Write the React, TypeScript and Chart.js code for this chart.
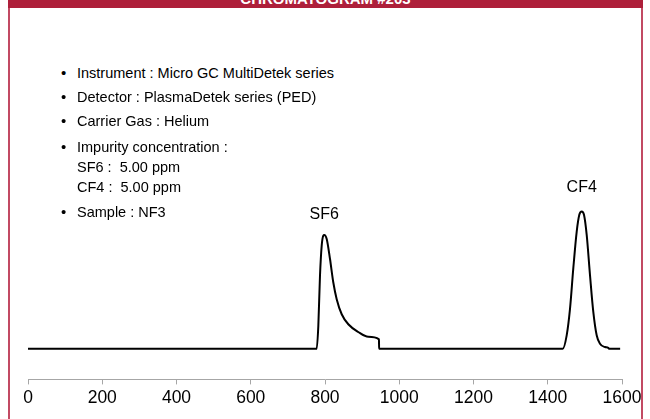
import { useEffect, useRef } from 'react';
import { Chart, registerables } from 'chart.js';

Chart.register(...registerables);

const titleText = 'CHROMATOGRAM #203';

const infoBullets = [
  'Instrument : Micro GC MultiDetek series',
  'Detector : PlasmaDetek series (PED)',
  'Carrier Gas : Helium',
  'Impurity concentration :',
  'SF6 :  5.00 ppm',
  'CF4 :  5.00 ppm',
  'Sample : NF3',
];
const infoHasBullet = [true, true, true, true, false, false, true];
const infoLineY = [73, 96.5, 121, 147, 166.5, 186.5, 212];

const retentionTimes = [
  0, 777.6, 782, 786.5, 791.1, 795.4, 798.1, 804.6, 813.5, 822.4, 831.5, 845, 862.8, 889.7, 916.6,
  945.5, 945.6, 1440.3, 1451, 1460, 1468.8, 1478, 1485, 1491.5, 1497.6, 1504.9, 1513.8, 1522.7,
  1531.8, 1540.7, 1554.2, 1563, 1565, 1595,
];
const signal = [
  0, 0, 22.7, 72.7, 102.7, 112.7, 113.4, 109.4, 89.4, 66, 49.4, 34.4, 24.4, 16.7, 12, 9.4, 0, 0,
  13.4, 40, 80, 116.7, 133.4, 136.7, 133.4, 113.4, 73.4, 36.7, 13.4, 5, 1.7, 1, 0, 0,
];

const peakLabels = ['SF6', 'CF4'];
const peakTimes = [798.1, 1491.5];
const peakHeights = [113.4, 136.7];
const peakLabelOffsets = [20, 24];

const xTicks = [0, 200, 400, 600, 800, 1000, 1200, 1400, 1600];

const FONT = '"Liberation Sans", Arial, sans-serif';

const peakLabelPlugin = {
  id: 'peakLabels',
  afterDatasetsDraw(chart: any) {
    const { ctx, scales } = chart;
    ctx.save();
    ctx.fillStyle = '#000';
    ctx.font = `16px ${FONT}`;
    ctx.textAlign = 'center';
    ctx.textBaseline = 'middle';
    peakLabels.forEach((lab, i) => {
      const x = scales.x.getPixelForValue(peakTimes[i]);
      const y = scales.y.getPixelForValue(peakHeights[i]) - peakLabelOffsets[i];
      ctx.fillText(lab, x, y);
    });
    ctx.restore();
  },
};

export default function App() {
  const canvasRef = useRef<HTMLCanvasElement>(null);

  useEffect(() => {
    if (!canvasRef.current) return;
    const chart = new Chart(canvasRef.current, {
      type: 'line',
      data: {
        datasets: [
          {
            data: retentionTimes.map((t, i) => ({ x: t, y: signal[i] })),
            borderColor: '#000',
            borderWidth: 2,
            pointRadius: 0,
            cubicInterpolationMode: 'monotone',
            fill: false,
          },
        ],
      },
      options: {
        animation: false,
        responsive: false,
        layout: { padding: { left: 28, right: 28, top: 40, bottom: 7.6 } },
        plugins: { legend: { display: false }, tooltip: { enabled: false } },
        scales: {
          x: {
            type: 'linear',
            min: 0,
            max: 1600,
            afterBuildTicks: (axis: any) => {
              axis.ticks = xTicks.map((v) => ({ value: v }));
            },
            ticks: {
              color: '#000',
              font: { size: 17.5, family: FONT },
              padding: 3,
              maxRotation: 0,
              callback: (v: any) => String(v),
            },
            grid: { drawOnChartArea: false, drawTicks: true, tickLength: 5, color: '#A6A6A6' },
            border: { display: true, color: '#A6A6A6', width: 1 },
          },
          y: { display: false, min: -30.5, max: 307.5 },
        },
      },
      plugins: [peakLabelPlugin],
    } as any);
    return () => chart.destroy();
  }, []);

  return (
    <div>
      <div
        style={{
          position: 'absolute',
          left: 8,
          top: 8,
          width: 635,
          height: 440,
          boxSizing: 'border-box',
          borderLeft: '2px solid #C24A63',
          borderRight: '2px solid #C24A63',
          borderBottom: '2px solid #C24A63',
        }}
      />
      <div
        style={{
          position: 'absolute',
          left: 8,
          top: -22,
          width: 635,
          height: 30,
          background: '#AE1F3A',
          overflow: 'hidden',
        }}
      >
        <div
          style={{
            position: 'absolute',
            left: 0,
            width: '100%',
            top: 11,
            height: 20,
            lineHeight: '20px',
            textAlign: 'center',
            color: '#fff',
            fontWeight: 'bold',
            fontSize: 15,
            fontFamily: FONT,
            whiteSpace: 'nowrap',
          }}
        >
          {titleText}
        </div>
      </div>
      {infoBullets.map((line, i) => (
        <div
          key={i}
          style={{
            position: 'absolute',
            left: 61,
            top: infoLineY[i] - 10,
            height: 20,
            lineHeight: '20px',
            fontFamily: FONT,
            fontSize: 14.5,
            color: '#000',
            whiteSpace: 'pre',
          }}
        >
          <span style={{ display: 'inline-block', width: 16, fontSize: 15 }}>{infoHasBullet[i] ? '\u2022' : ''}</span>
          {line}
        </div>
      ))}
      <canvas
        ref={canvasRef}
        width={650}
        height={419}
        style={{ position: 'absolute', left: 0, top: 0, width: 650, height: 419 }}
      />
    </div>
  );
}
